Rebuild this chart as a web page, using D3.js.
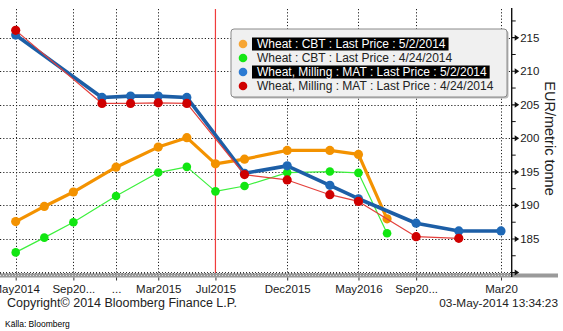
<!DOCTYPE html>
<html>
<head>
<meta charset="utf-8">
<script src="https://cdn.jsdelivr.net/npm/d3@7"></script>
<style>
  html, body { margin: 0; padding: 0; background: #fff; }
  svg { display: block; font-family: "Liberation Sans", Arial, sans-serif; }
</style>
</head>
<body>
<svg id="chart" width="563" height="331"></svg>
<script>
// Contract months (first of month) for each curve
const cbtMonths = ["2014-05","2014-07","2014-09","2014-12","2015-03","2015-05","2015-07","2015-09","2015-12","2016-03","2016-05","2016-07"];
const cbtLast0502 = [187.6, 189.85, 192.0, 195.7, 198.7, 200.1, 196.2, 196.9, 198.2, 198.2, 197.6, 188.0];
const cbtLast0424 = [183.0, 185.2, 187.5, 191.4, 194.9, 195.75, 192.1, 192.9, 194.9, 195.05, 194.85, 185.85];

const matMonths = ["2014-05","2014-11","2015-01","2015-03","2015-05","2015-09","2015-12","2016-03","2016-05","2016-09","2016-12","2017-03"];
const matLast0502 = [215.4, 206.1, 206.3, 206.3, 206.1, 194.8, 195.9, 193.0, 191.0, 187.35, 186.2, 186.2];
const matLast0424 = [216.1, 205.2, 205.2, 205.3, 205.2, 194.6, 193.8, 191.6, 190.6, 185.35, 185.1];

const xTickMonths = ["2014-05","2014-09","2014-12","2015-03","2015-07","2015-12","2016-05","2016-09","2017-03"];
const xTickLabels = ["May2014","Sep20...","...","Mar2015","Jul2015","Dec2015","May2016","Sep20...","Mar20"];
const yTicks = [180, 185, 190, 195, 200, 205, 210, 215];
const yMinorTicks = [182.5, 187.5, 192.5, 197.5, 202.5, 207.5, 212.5, 217.5];
const markerMonth = "2015-07";

const legendLabels = [
  "Wheat : CBT : Last Price : 5/2/2014",
  "Wheat : CBT : Last Price : 4/24/2014",
  "Wheat, Milling : MAT : Last Price : 5/2/2014",
  "Wheat, Milling : MAT : Last Price : 4/24/2014"
];

const parseMonth = d3.timeParse("%Y-%m");
const svg = d3.select("#chart");

const plot = { left: 0, right: 511.7, top: 8, bottom: 273 };
const x = d3.scaleTime()
  .domain([parseMonth("2014-05"), parseMonth("2017-03")])
  .range([15.7, 501]);
const y = d3.scaleLinear()
  .domain([179.93, 219.43])
  .range([plot.bottom, plot.top]);

// Grid
const grid = svg.append("g").attr("stroke", "#222").attr("stroke-width", 1).attr("stroke-dasharray", "1.2,2");
grid.selectAll("line.v").data(xTickMonths).join("line")
  .attr("x1", d => Math.round(x(parseMonth(d))) + 0.5).attr("x2", d => Math.round(x(parseMonth(d))) + 0.5)
  .attr("y1", 9).attr("y2", plot.bottom);
grid.selectAll("line.h").data(yTicks).join("line")
  .attr("x1", plot.left).attr("x2", plot.right)
  .attr("y1", d => Math.round(y(d)) + 0.5).attr("y2", d => Math.round(y(d)) + 0.5);

// Vertical marker line
svg.append("line")
  .attr("x1", x(parseMonth(markerMonth))).attr("x2", x(parseMonth(markerMonth)))
  .attr("y1", 9).attr("y2", plot.bottom)
  .attr("stroke", "#f03c3c").attr("stroke-width", 1.2);

// Series
const series = [
  { months: cbtMonths, values: cbtLast0502, line: "#f39200", dot: "#f39200", width: 3.2, r: 4.6 },
  { months: cbtMonths, values: cbtLast0424, line: "#3cf03c", dot: "#11e611", width: 1.2, r: 4.3 },
  { months: matMonths, values: matLast0502, line: "#1c5ea6", dot: "#1e68b6", width: 3.6, r: 4.6 },
  { months: matMonths, values: matLast0424, line: "#e4403c", dot: "#cf0000", width: 1.2, r: 4.6 }
];
const lineGen = d3.line().x(d => x(d.date)).y(d => y(d.v));
series.forEach(s => {
  const pts = s.values.map((v, i) => ({ date: parseMonth(s.months[i]), v }));
  const g = svg.append("g");
  g.append("path").datum(pts).attr("d", lineGen)
    .attr("fill", "none").attr("stroke", s.line).attr("stroke-width", s.width)
    .attr("stroke-linejoin", "round");
  g.selectAll("circle").data(pts).join("circle")
    .attr("cx", d => x(d.date)).attr("cy", d => y(d.v)).attr("r", s.r)
    .attr("fill", s.dot);
});

// Bottom band
svg.append("rect").attr("x", 0).attr("y", 273.5).attr("width", 558).attr("height", 4).attr("fill", "#9a9a9a");
svg.append("line").attr("x1", 0).attr("x2", 511).attr("y1", 275.5).attr("y2", 275.5)
  .attr("stroke", "#e0e0e0").attr("stroke-width", 1).attr("stroke-dasharray", "1,2");
svg.append("line").attr("x1", 0).attr("x2", 511).attr("y1", plot.bottom - 0.5).attr("y2", plot.bottom - 0.5)
  .attr("stroke", "#333").attr("stroke-width", 1).attr("stroke-dasharray", "1,2");

// X axis labels
const xAxis = d3.axisBottom(x)
  .tickValues(xTickMonths.map(parseMonth))
  .tickFormat((d, i) => xTickLabels[i])
  .tickSize(3).tickPadding(4);
const gx = svg.append("g").attr("transform", `translate(0,${277.5})`).call(xAxis);
gx.select(".domain").remove();
gx.selectAll("line").attr("stroke", "#333");
gx.selectAll("text").attr("font-size", 11.5).attr("fill", "#1a1a1a")
  .attr("font-family", "'Liberation Sans', Arial, sans-serif");

// Right axis
const ga = svg.append("g");
ga.append("line").attr("x1", plot.right).attr("x2", plot.right).attr("y1", 8).attr("y2", 277)
  .attr("stroke", "#111").attr("stroke-width", 1.4);
ga.selectAll("line.minor").data(yMinorTicks).join("line")
  .attr("x1", plot.right).attr("x2", plot.right + 4)
  .attr("y1", d => y(d)).attr("y2", d => y(d))
  .attr("stroke", "#111").attr("stroke-width", 1);
ga.selectAll("path.tri").data(yTicks).join("path")
  .attr("d", d => {
    const yy = y(d), x0 = plot.right;
    return `M${x0},${yy - 0.6}L${x0 + 3},${yy - 0.6}L${x0 + 3},${yy - 3}L${x0 + 7.5},${yy}L${x0 + 3},${yy + 3}L${x0 + 3},${yy + 0.6}L${x0},${yy + 0.6}Z`;
  })
  .attr("fill", "#111");
ga.selectAll("text").data(yTicks.filter(v => v >= 185)).join("text")
  .attr("x", plot.right + 8.5).attr("y", d => y(d) + 4)
  .attr("font-size", 11.5).attr("fill", "#1a1a1a")
  .text(d => d);
svg.append("text")
  .attr("transform", `translate(${545},${138.5}) rotate(90)`)
  .attr("text-anchor", "middle")
  .attr("font-size", 14.5).attr("fill", "#222")
  .text("EUR/metric tonne");

// Legend
const lg = svg.append("g").attr("transform", "translate(231,29)");
lg.append("rect").attr("x", 1.5).attr("y", 1.5).attr("width", 276).attr("height", 68)
  .attr("rx", 3).attr("fill", "#bbb");
lg.append("rect").attr("x", 0).attr("y", 0).attr("width", 276).attr("height", 68)
  .attr("rx", 3).attr("fill", "#f0f0f0").attr("stroke", "#8a8a8a").attr("stroke-width", 1);
const legendDots = ["#f7a533", "#14e614", "#2b7ad2", "#cf0000"];
const highlight = [true, false, true, false];
legendLabels.forEach((t, i) => {
  const cy = 15 + i * 14;
  lg.append("circle").attr("cx", 12).attr("cy", cy).attr("r", 4.3).attr("fill", legendDots[i]);
  const txt = lg.append("text").attr("x", 26).attr("y", cy + 4.2)
    .attr("font-size", 12).attr("fill", highlight[i] ? "#fff" : "#222").text(t);
  if (highlight[i]) {
    const w = txt.node().getComputedTextLength();
    lg.insert("rect", () => txt.node())
      .attr("x", 21).attr("y", cy - 6.5).attr("width", w + 8).attr("height", 13)
      .attr("fill", "#000");
  }
});

// Footer
svg.append("text").attr("x", 7).attr("y", 307).attr("font-size", 12.5).attr("fill", "#222")
  .text("Copyright\u00a9 2014 Bloomberg Finance L.P.");
svg.append("text").attr("x", 558).attr("y", 307).attr("text-anchor", "end")
  .attr("font-size", 11.8).attr("fill", "#222").text("03-May-2014 13:34:23");
svg.append("text").attr("x", 5).attr("y", 327).attr("font-size", 8.5).attr("fill", "#000")
  .text("Källa: Bloomberg");
</script>
</body>
</html>
